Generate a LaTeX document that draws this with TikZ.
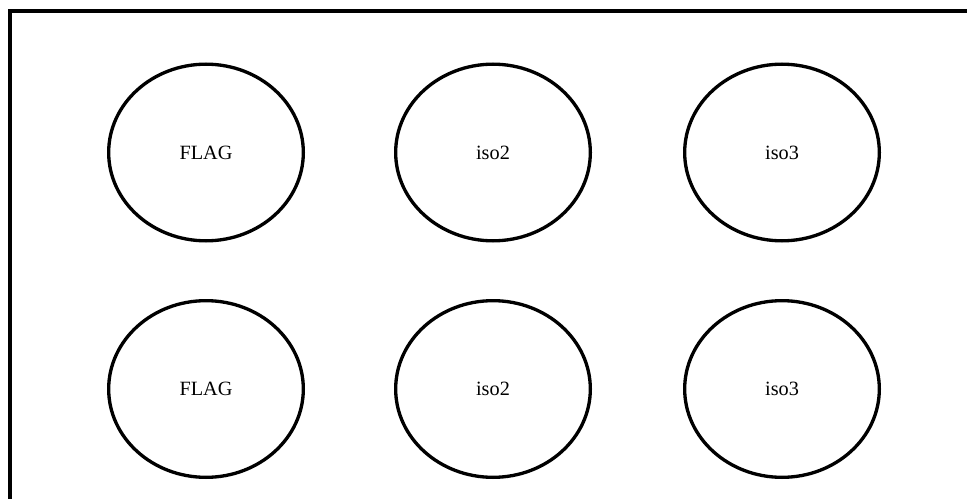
\documentclass[tikz,border=0pt]{standalone}
\usepackage{fontspec}
\setmainfont{Liberation Serif}
\usetikzlibrary{shapes.geometric}
\begin{document}
\begin{tikzpicture}[x=0.75pt,y=-0.75pt,
	oval/.style={draw,ellipse,line width=2.5pt,minimum width=146pt,minimum height=132.5pt,inner sep=0pt,font=\fontsize{15.2}{18}\selectfont}]
			\useasboundingbox (0,0) rectangle (967,499);
			\draw[line width=3pt] (10.3,11.3) rectangle (1010,540);
			\node[oval] (flagA) at (206,152.5) {FLAG};
			\node[oval] (isotwoA) at (493,152.5) {iso2};
			\node[oval] (isothreeA) at (782,152.5) {iso3};
			\node[oval] (flagB) at (206,389) {FLAG};
			\node[oval] (isotwoB) at (493,389) {iso2};
			\node[oval] (isothreeB) at (782,389) {iso3};
		\end{tikzpicture}
\end{document}
